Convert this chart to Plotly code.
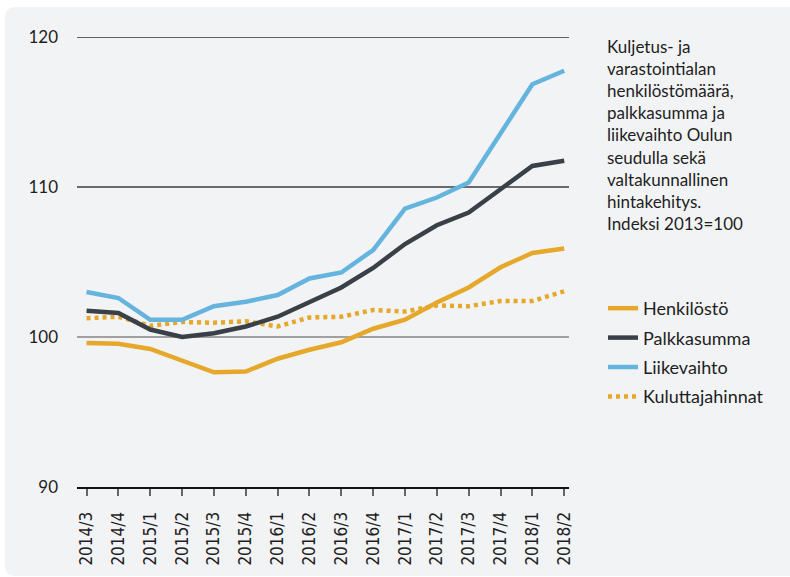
import plotly.graph_objects as go

# Quarter labels (x axis)
quarters = ["2014/3", "2014/4", "2015/1", "2015/2", "2015/3", "2015/4",
            "2016/1", "2016/2", "2016/3", "2016/4", "2017/1", "2017/2",
            "2017/3", "2017/4", "2018/1", "2018/2"]

# Index series, 2013 = 100
henkilosto = [99.6, 99.55, 99.2, 98.45, 97.65, 97.7, 98.55, 99.15,
              99.65, 100.55, 101.15, 102.3, 103.3, 104.65, 105.6, 105.9]
palkkasumma = [101.75, 101.6, 100.5, 100.0, 100.25, 100.7, 101.35, 102.35,
               103.3, 104.6, 106.2, 107.45, 108.3, 109.85, 111.4, 111.75]
liikevaihto = [103.0, 102.6, 101.15, 101.15, 102.05, 102.35, 102.8, 103.9,
               104.3, 105.8, 108.55, 109.3, 110.3, 113.55, 116.85, 117.75]
kuluttajahinnat = [101.25, 101.35, 100.75, 101.0, 100.95, 101.05, 100.7, 101.3,
                   101.35, 101.8, 101.7, 102.1, 102.05, 102.4, 102.4, 103.05]

y_ticks = [90, 100, 110, 120]
# horizontal reference lines and their colours
grid_levels = [100, 110, 120]
grid_colors = ["#858585", "#3c3c3c", "#333333"]

YELLOW = "#e5a82b"
DARK = "#394047"
BLUE = "#64b4de"
PANEL = "#f2f3f5"

W, H = 790, 577
ML, MR, MT, MB = 77, 221, 37, 90
PW, PH = W - ML - MR, H - MT - MB


def px(x):
    return (x - ML) / PW


def py(y):
    return (H - MB - y) / PH


fig = go.Figure()

series = [
    ("Henkilöstö", henkilosto, YELLOW, "solid"),
    ("Palkkasumma", palkkasumma, DARK, "solid"),
    ("Liikevaihto", liikevaihto, BLUE, "solid"),
    ("Kuluttajahinnat", kuluttajahinnat, YELLOW, "4px,4px"),
]
ranks = {name: i + 1 for i, (name, *_rest) in enumerate(series)}
# draw order: dotted first so solid lines sit on top
for name, vals, color, dash in [series[3], series[0], series[1], series[2]]:
    fig.add_trace(go.Scatter(
        x=quarters, y=vals, name=name, mode="lines",
        line=dict(color=color, width=4.5, dash=dash),
        legendgroup=name, legendrank=ranks[name],
        hoverinfo="skip",
    ))

# rounded light panel behind the chart
r = 11
x0, y0, x1, y1 = 5, 7, 800, 576
path = (f"M {px(x0 + r)} {py(y0)} L {px(x1)} {py(y0)} L {px(x1)} {py(y1)} "
        f"L {px(x0 + r)} {py(y1)} Q {px(x0)} {py(y1)} {px(x0)} {py(y1 - r)} "
        f"L {px(x0)} {py(y0 + r)} Q {px(x0)} {py(y0)} {px(x0 + r)} {py(y0)} Z")
fig.add_shape(type="path", path=path, xref="paper", yref="paper",
              fillcolor=PANEL, line=dict(width=0), layer="below")

for lvl, col in zip(grid_levels, grid_colors):
    fig.add_shape(type="line", xref="paper", yref="y", x0=0, x1=1, y0=lvl, y1=lvl,
                  line=dict(color=col, width=1.5), layer="below")

fig.add_annotation(
    xref="paper", yref="paper", x=px(605), y=py(34), xanchor="left", yanchor="top",
    showarrow=False, align="left",
    text=("Kuljetus- ja<br>varastointialan<br>henkilöstömäärä,<br>palkkasumma ja<br>"
          "liikevaihto Oulun<br>seudulla sekä<br>valtakunnallinen<br>hintakehitys.<br>"
          "Indeksi 2013=100"),
    font=dict(family="Lato, Open Sans, sans-serif", size=17, color="#1e1e1e"),
)

fig.update_layout(
    width=W, height=H,
    margin=dict(l=ML, r=MR, t=MT, b=MB, pad=0),
    paper_bgcolor="white", plot_bgcolor="rgba(0,0,0,0)",
    showlegend=True,
    legend=dict(
        x=px(603), y=py(290), xanchor="left", yanchor="top",
        bgcolor="rgba(0,0,0,0)", traceorder="grouped", tracegroupgap=3,
        font=dict(family="Lato, Open Sans, sans-serif", size=18, color="#1e1e1e"),
    ),
    xaxis=dict(
        type="category", range=[-0.3, 15.15], showgrid=False,
        showline=True, linecolor="#111111", linewidth=2,
        ticks="outside", ticklen=7, tickwidth=1.5, tickcolor="#666666",
        tickangle=-90, ticklabelstandoff=9,
        tickfont=dict(family="Liberation Sans Narrow, DejaVu Sans Condensed, sans-serif",
                      size=17, color="#1e1e1e"),
        zeroline=False, fixedrange=True,
    ),
    yaxis=dict(
        range=[90, 120], tickvals=y_ticks, ticktext=[str(v) for v in y_ticks],
        showgrid=False, showline=False, zeroline=False, ticks="",
        ticklabelstandoff=18,
        tickfont=dict(family="Lato, Open Sans, sans-serif", size=17, color="#1e1e1e"),
        fixedrange=True,
    ),
)

fig.write_html("out.html")
